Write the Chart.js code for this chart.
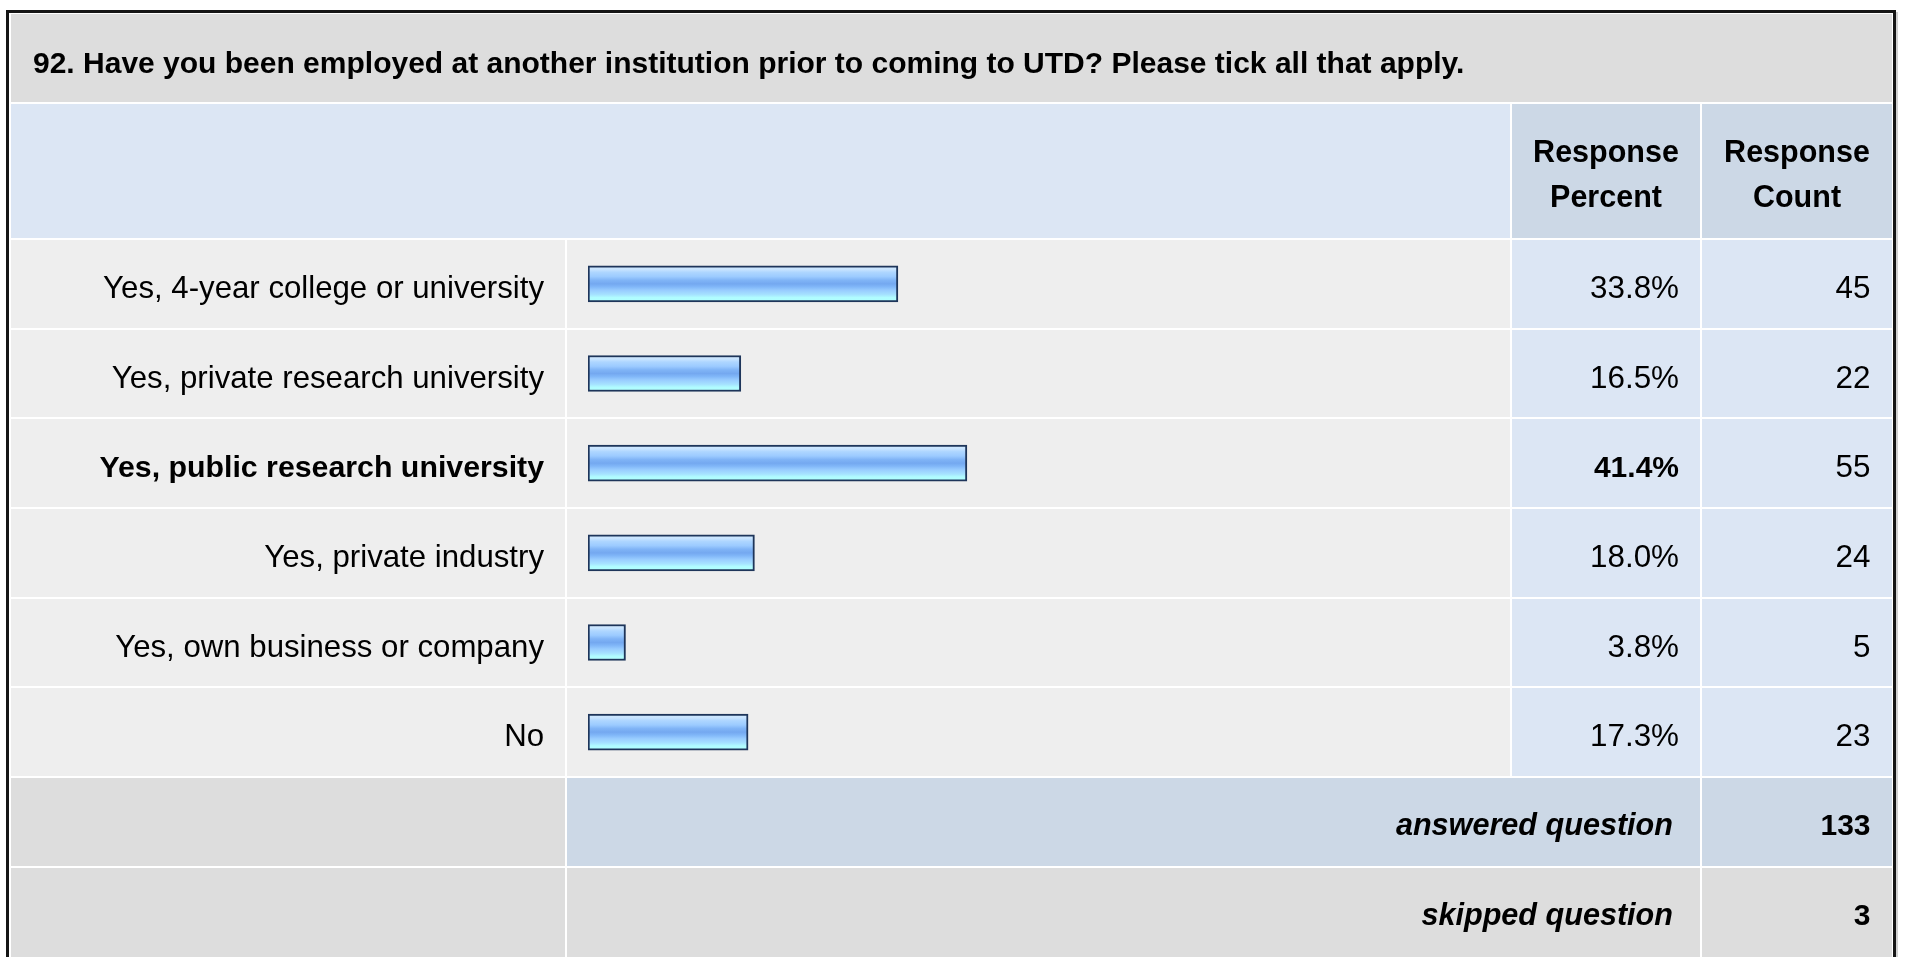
<!DOCTYPE html>
<html>
<head>
<meta charset="utf-8">
<title>Prior employment – survey question 92</title>
<script src="https://cdn.jsdelivr.net/npm/chart.js@4.4.1/dist/chart.umd.min.js"></script>
<style>
  html, body { margin: 0; padding: 0; background: #fff; overflow: hidden; }
  canvas { display: block; }
</style>
</head>
<body>
<canvas id="survey" width="1907" height="957"></canvas>
<script>
// ---- survey data ----
const questionTitle = '92. Have you been employed at another institution prior to coming to UTD? Please tick all that apply.';
const answerChoices = [
  'Yes, 4-year college or university',
  'Yes, private research university',
  'Yes, public research university',
  'Yes, private industry',
  'Yes, own business or company',
  'No'
];
const responsePercent = [33.8, 16.5, 41.4, 18.0, 3.8, 17.3];
const responseCount = [45, 22, 55, 24, 5, 23];
const columnHeaders = [['Response', 'Percent'], ['Response', 'Count']];
const summaryLabels = ['answered question', 'skipped question'];
const summaryCounts = [133, 3];

// ---- layout & style ----
const FONT = '"Liberation Sans", Arial, Helvetica, sans-serif';
const COL = { labelL: 11, labelR: 565, barL: 567, barR: 1510, pctL: 1512, pctR: 1700, cntL: 1702, cntR: 1892 };
const BAND = { titleT: 14, titleB: 102, headT: 104, headB: 238 };
const PLOT = { top: 239, bottom: 777, left: 588, right: 1499 };
const X_MIN = -0.33;          // bars start a hair left of zero, giving tiny values a visible stub
const BAR_H = 36;
const C = {
  frame: '#151515', shadow: '#d0d0d0',
  title: '#dddddd', head: '#dce6f4', headDark: '#ccd8e6',
  row: '#eeeeee', rowBlue: '#dce6f4', sumBlue: '#ccd8e6', sumGray: '#dddddd',
  barBorder: '#1e355a', text: '#000000'
};
const topIdx = responsePercent.indexOf(Math.max(...responsePercent));

function barFill(ctx) {
  const chart = ctx.chart;
  if (!chart.chartArea || ctx.type !== 'data') return '#8cc0ff';
  const c = chart.scales.y.getPixelForValue(ctx.dataIndex);
  const g = chart.ctx.createLinearGradient(0, c - BAR_H / 2, 0, c + BAR_H / 2);
  g.addColorStop(0.00, '#d2eaff');
  g.addColorStop(0.10, '#c8e4ff');
  g.addColorStop(0.18, '#aed6ff');
  g.addColorStop(0.30, '#9ccbff');
  g.addColorStop(0.40, '#80b4f6');
  g.addColorStop(0.50, '#74a8f0');
  g.addColorStop(0.58, '#80b6f8');
  g.addColorStop(0.68, '#98ccff');
  g.addColorStop(0.80, '#a6e2ff');
  g.addColorStop(0.88, '#b0fcff');
  g.addColorStop(1.00, '#b0ffff');
  return g;
}

function rowGeometry(chart) {
  const y = chart.scales.y;
  const pitch = y.getPixelForValue(1) - y.getPixelForValue(0);
  return { y, pitch, first: y.getPixelForValue(0) };
}

function text(ctx, str, x, y, align, font) {
  ctx.font = font;
  ctx.textAlign = align;
  ctx.textBaseline = 'alphabetic';
  ctx.fillStyle = C.text;
  ctx.fillText(str, x, y);
}

const tablePlugin = {
  id: 'surveyTable',
  beforeDraw(chart) {
    const ctx = chart.ctx;
    const W = chart.width, H = chart.height;
    const { pitch, first } = rowGeometry(chart);
    ctx.save();
    ctx.fillStyle = '#ffffff';
    ctx.fillRect(0, 0, W, H);

    // outer frame
    ctx.fillStyle = C.shadow;
    ctx.fillRect(1896, 12, 2, H - 12);
    ctx.fillStyle = C.frame;
    ctx.fillRect(6, 10, 1890, 3);
    ctx.fillRect(6, 10, 3, H - 10);
    ctx.fillRect(1893, 10, 3, H - 10);

    // title band
    ctx.fillStyle = C.title;
    ctx.fillRect(COL.labelL, BAND.titleT, COL.cntR - COL.labelL, BAND.titleB - BAND.titleT);

    // header band
    ctx.fillStyle = C.head;
    ctx.fillRect(COL.labelL, BAND.headT, COL.barR - COL.labelL, BAND.headB - BAND.headT);
    ctx.fillStyle = C.headDark;
    ctx.fillRect(COL.pctL, BAND.headT, COL.pctR - COL.pctL, BAND.headB - BAND.headT);
    ctx.fillRect(COL.cntL, BAND.headT, COL.cntR - COL.cntL, BAND.headB - BAND.headT);

    // answer rows
    answerChoices.forEach((_, i) => {
      const t = Math.round(first + (i - 0.5) * pitch + 1);
      const b = Math.round(first + (i + 0.5) * pitch - 1);
      ctx.fillStyle = C.row;
      ctx.fillRect(COL.labelL, t, COL.labelR - COL.labelL, b - t);
      ctx.fillRect(COL.barL, t, COL.barR - COL.barL, b - t);
      ctx.fillStyle = C.rowBlue;
      ctx.fillRect(COL.pctL, t, COL.pctR - COL.pctL, b - t);
      ctx.fillRect(COL.cntL, t, COL.cntR - COL.cntL, b - t);
    });

    // summary rows
    summaryLabels.forEach((_, k) => {
      const i = answerChoices.length + k;
      const t = Math.round(first + (i - 0.5) * pitch + 1);
      const b = k === summaryLabels.length - 1 ? H : Math.round(first + (i + 0.5) * pitch - 1);
      const mid = k === 0 ? C.sumBlue : C.sumGray;
      ctx.fillStyle = C.sumGray;
      ctx.fillRect(COL.labelL, t, COL.labelR - COL.labelL, b - t);
      ctx.fillStyle = mid;
      ctx.fillRect(COL.barL, t, COL.pctR - COL.barL, b - t);
      ctx.fillRect(COL.cntL, t, COL.cntR - COL.cntL, b - t);
    });
    ctx.restore();
  },
  afterDraw(chart) {
    const ctx = chart.ctx;
    const { y, pitch, first } = rowGeometry(chart);
    ctx.save();
    const reg = '31.4px ' + FONT;
    const bold = 'bold 30px ' + FONT;

    // question title
    text(ctx, questionTitle, 33, BAND.titleT + 59, 'left', bold);

    // column headers
    const cols = [[COL.pctL, COL.pctR], [COL.cntL, COL.cntR]];
    columnHeaders.forEach((lines, c) => {
      const cx = (cols[c][0] + cols[c][1]) / 2;
      text(ctx, lines[0], cx, BAND.headT + 57.5, 'center', 'bold 30.5px ' + FONT);
      text(ctx, lines[1], cx, BAND.headT + 103, 'center', 'bold 30.5px ' + FONT);
    });

    // percent / count cells
    responsePercent.forEach((p, i) => {
      const base = y.getPixelForValue(i) + 14;
      const f = i === topIdx ? bold : reg;
      text(ctx, p.toFixed(1) + '%', COL.pctR - 21, base, 'right', f);
      text(ctx, String(responseCount[i]), COL.cntR - 21.5, base, 'right', reg);
    });

    // answered / skipped
    summaryLabels.forEach((lab, k) => {
      const i = answerChoices.length + k;
      const base = first + i * pitch + 13;
      text(ctx, lab, COL.pctR - 27, base, 'right', 'italic bold 30.6px ' + FONT);
      text(ctx, String(summaryCounts[k]), COL.cntR - 21.5, base, 'right', bold);
    });
    ctx.restore();
  }
};

new Chart(document.getElementById('survey'), {
  type: 'bar',
  data: {
    labels: answerChoices,
    datasets: [{
      data: responsePercent,
      base: X_MIN,
      backgroundColor: barFill,
      borderColor: C.barBorder,
      borderWidth: 2,
      borderSkipped: false,
      barThickness: BAR_H
    }]
  },
  options: {
    indexAxis: 'y',
    responsive: false,
    animation: false,
    devicePixelRatio: 1,
    events: [],
    layout: {
      padding: { top: PLOT.top, bottom: 957 - PLOT.bottom, left: 0, right: 1907 - PLOT.right }
    },
    plugins: { legend: { display: false }, tooltip: { enabled: false } },
    scales: {
      x: { display: false, min: X_MIN, max: 100 },
      y: {
        afterFit(scale) { scale.width = PLOT.left; },
        grid: { display: false, drawTicks: false },
        border: { display: false },
        ticks: {
          padding: PLOT.left - 544,
          labelOffset: 5.5,
          color: C.text,
          autoSkip: false,
          font: (ctx) => ctx.index === topIdx
            ? { family: FONT, size: 30.3, weight: 'bold' }
            : { family: FONT, size: 31.2, weight: 'normal' }
        }
      }
    }
  },
  plugins: [tablePlugin]
});
</script>
</body>
</html>
